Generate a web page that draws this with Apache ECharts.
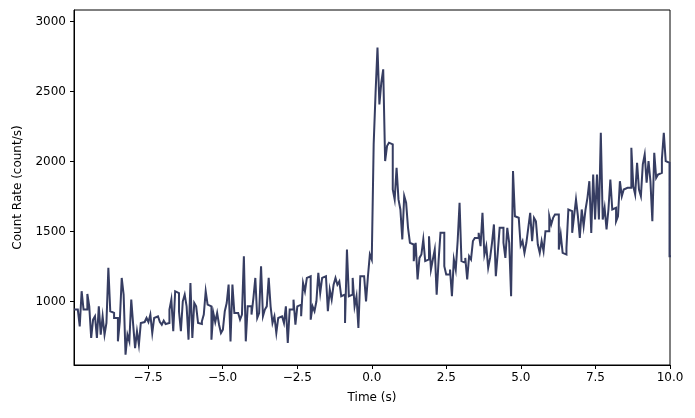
<!DOCTYPE html>
<html>
<head>
<meta charset="utf-8">
<script src="https://cdn.jsdelivr.net/npm/echarts@6/dist/echarts.min.js"></script>
<style>
html,body{margin:0;padding:0;background:#fff;}
#chart{width:695px;height:418px;}
</style>
</head>
<body>
<div id="chart"></div>
<script>
// 64 ms light curve bins
const binStart = -9.984;
const binWidth = 0.064;
const rates = [
943,943,955,823,1074,943,943,1055,966,740,
871,895,740,966,764,895,764,847,1241,931,
919,883,883,716,859,1169,1050,621,764,716,
1014,835,668,788,692,847,854,864,883,854,
907,776,883,895,883,854,835,864,840,847,
943,1014,788,1074,1060,931,788,1002,1050,966,
728,1133,740,990,966,847,840,859,907,1074,
978,966,728,919,854,919,835,776,
800,931,990,1121,716,1121,919,919,907,871,
907,1324,716,966,966,907,1026,1169,883,919,
1253,895,943,966,1169,966,847,895,776,883,
895,907,847,966,704,943,943,1014,835,966,
978,895,1133,1074,1169,1181,871,966,931,1002,
1205,1062,1169,1181,1181,931,1086,1014,1121,1169,
1121,1145,1038,1050,847,1372,1038,1050,1169,966,
1038,812,1181,1181,1181,1002,1181,1336,
1300,2123,2493,2814,2409,2564,2659,2004,2111,2135,
2123,1801,1730,1956,1730,1658,1444,1754,1706,1527,
1420,1408,1289,1420,1158,1312,1336,1444,1289,1301,
1467,1229,1301,1372,1050,1289,1491,1491,1253,1193,
1193,1229,1038,1301,1229,1432,1706,1289,1277,1312,
1158,1324,1301,1432,1455,1455,1491,1396,1634,1336,
1396,1241,1312,1420,1551,1181,1348,1527,1527,1420,
1312,1527,1420,1038,1932,1610,1599,
1610,1400,1432,1348,1420,1527,1634,1432,1598,1574,
1408,1348,1432,1360,1503,1503,1610,1551,1598,1622,
1622,1372,1479,1348,1336,1384,1658,1646,1491,1610,
1729,1610,1455,1658,1539,1658,1741,1860,1491,1908,
1586,1908,1586,2206,1586,1670,1515,1658,1872,1658,
1670,1574,1610,1860,1753,1801,1813,1801,1813,2099,
1825,1765,1992,1801,1753,1980,2051,1849,2004,1860,
1574,2063,1884,1908,1920,2016,2206,2004,1992,1324
];
const xTicks = [-7.5, -5.0, -2.5, 0.0, 2.5, 5.0, 7.5, 10.0];
const yTicks = [1000, 1500, 2000, 2500, 3000];
const xRange = [-9.984, 10.0];
const yRange = [547, 3083];

// build a post-style step outline from the bin edges
const data = [];
for (let i = 0; i < rates.length; i++) {
  const left = +(binStart + i * binWidth).toFixed(3);
  const right = +(binStart + (i + 1) * binWidth).toFixed(3);
  data.push([left, rates[i]]);
  data.push([right, rates[i]]);
}

const font = 'DejaVu Sans';
const chart = echarts.init(document.getElementById('chart'), null, {renderer: 'canvas'});
chart.setOption({
  animation: false,
  backgroundColor: '#fff',
  grid: {left: 74, right: 25, top: 10, bottom: 53, show: true, borderColor: '#000', borderWidth: 1, backgroundColor: 'transparent'},
  xAxis: {
    type: 'value', min: xRange[0], max: xRange[1],
    name: 'Time (s)', nameLocation: 'middle', nameGap: 27,
    nameTextStyle: {fontFamily: font, fontSize: 12, color: '#000'},
    axisLine: {show: true, onZero: false, lineStyle: {color: '#000', width: 1}},
    axisTick: {show: true, length: 4, inside: false, customValues: xTicks, lineStyle: {color: '#000', width: 1}},
    axisLabel: {customValues: xTicks, margin: 7, fontFamily: font, fontSize: 12, color: '#000',
      formatter: v => (v < 0 ? '\u2212' : '') + Math.abs(v).toFixed(1)},
    splitLine: {show: false}
  },
  yAxis: {
    type: 'value', min: yRange[0], max: yRange[1],
    name: 'Count Rate (count/s)', nameLocation: 'middle', nameGap: 50, nameRotate: 90,
    nameTextStyle: {fontFamily: font, fontSize: 12, color: '#000'},
    axisLine: {show: true, onZero: false, lineStyle: {color: '#000', width: 1}},
    axisTick: {show: true, length: 4, inside: false, customValues: yTicks, lineStyle: {color: '#000', width: 1}},
    axisLabel: {customValues: yTicks, margin: 8, fontFamily: font, fontSize: 12, color: '#000',
      formatter: v => String(Math.round(v))},
    splitLine: {show: false}
  },
  series: [{
    type: 'line', data: data, showSymbol: false, symbol: 'none', clip: true, sampling: null,
    lineStyle: {color: '#363d62', width: 2, join: 'miter'}
  }]
});
</script>
</body>
</html>
